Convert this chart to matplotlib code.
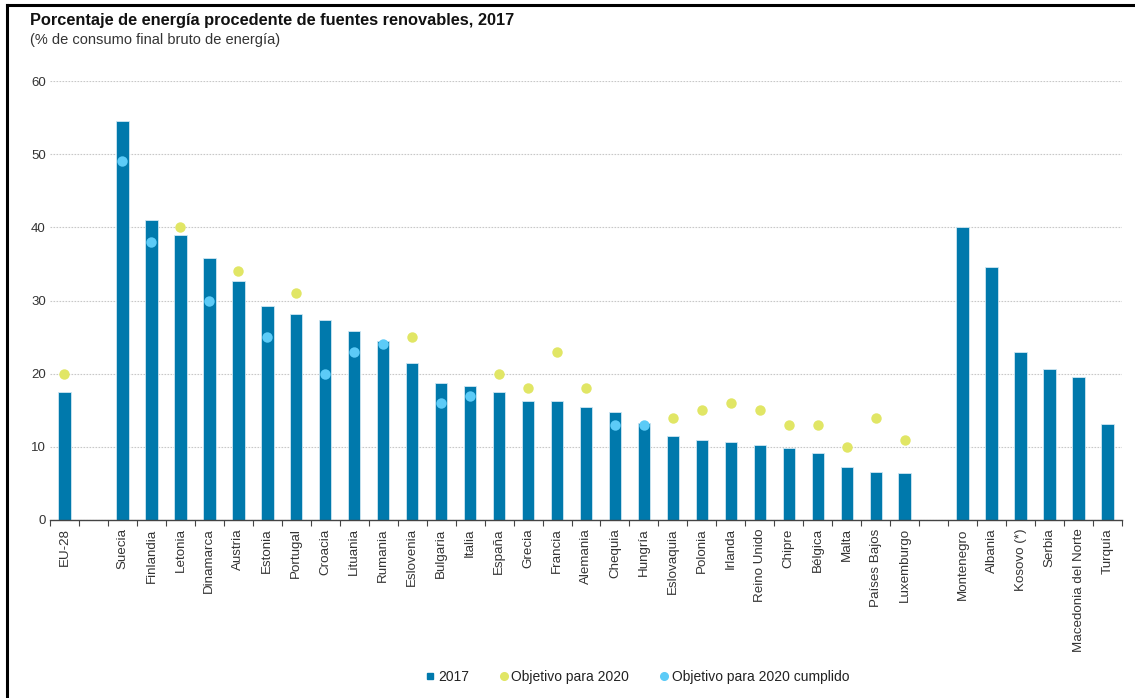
import matplotlib
matplotlib.use("Agg")
import matplotlib.pyplot as plt
from matplotlib.lines import Line2D
import numpy as np

plt.rcParams['font.family'] = ['Liberation Sans', 'DejaVu Sans']

# --- data -----------------------------------------------------------------
eu_label = ["EU-28"]
eu_value = [17.5]
eu_target = [20]

member_labels = ["Suecia", "Finlandia", "Letonia", "Dinamarca", "Austria", "Estonia",
                 "Portugal", "Croacia", "Lituania", "Rumania", "Eslovenia", "Bulgaria",
                 "Italia", "España", "Grecia", "Francia", "Alemania", "Chequia",
                 "Hungría", "Eslovaquia", "Polonia", "Irlanda", "Reino Unido", "Chipre",
                 "Bélgica", "Malta", "Países Bajos", "Luxemburgo"]
member_values = [54.5, 41.0, 39.0, 35.8, 32.6, 29.2, 28.1, 27.3, 25.8, 24.5, 21.5, 18.7,
                 18.3, 17.5, 16.3, 16.3, 15.5, 14.8, 13.3, 11.5, 10.9, 10.7, 10.2, 9.9,
                 9.1, 7.2, 6.6, 6.4]
member_targets = [49, 38, 40, 30, 34, 25, 31, 20, 23, 24, 25, 16,
                  17, 20, 18, 23, 18, 13, 13, 14, 15, 16, 15, 13,
                  13, 10, 14, 11]

other_labels = ["Montenegro", "Albania", "Kosovo (*)", "Serbia", "Macedonia del Norte", "Turquía"]
other_values = [40.0, 34.6, 23.0, 20.7, 19.5, 13.1]

yticks = [0, 10, 20, 30, 40, 50, 60]

# --- colours --------------------------------------------------------------
BAR = "#0079ac"
TARGET = "#e1e665"
TARGET_MET = "#5ccbf7"
GRID = "#c8c8c8"
TXT = "#333333"

# --- positions (one empty slot between groups) ----------------------------
groups = [(eu_label, eu_value, eu_target),
          (member_labels, member_values, member_targets),
          (other_labels, other_values, [None] * len(other_labels))]
positions, labels, values, targets = [], [], [], []
pos = 0
for gi, (lab, val, tgt) in enumerate(groups):
    if gi > 0:
        pos += 1
    for l, v, t in zip(lab, val, tgt):
        positions.append(pos)
        labels.append(l)
        values.append(v)
        targets.append(t)
        pos += 1
n_slots = pos

fig = plt.figure(figsize=(11.35, 6.98), dpi=100)
ax = fig.add_axes([50 / 1135, 1 - 520 / 698, 1072 / 1135, (520 - 81) / 698])

ax.bar(positions, values, width=0.43, color=BAR, edgecolor="#cfe7f2",
       linewidth=0.6, zorder=2)

tx_open = [p for p, v, t in zip(positions, values, targets) if t is not None and v < t]
ty_open = [t for v, t in zip(values, targets) if t is not None and v < t]
tx_met = [p for p, v, t in zip(positions, values, targets) if t is not None and v >= t]
ty_met = [t for v, t in zip(values, targets) if t is not None and v >= t]
ax.plot(tx_open, ty_open, "o", color=TARGET, markersize=7.5, markeredgewidth=0, zorder=3)
ax.plot(tx_met, ty_met, "o", color=TARGET_MET, markersize=7.5, markeredgewidth=0, zorder=3)

ax.set_xlim(-0.5, n_slots - 0.5)
ax.set_ylim(0, 60)
ax.set_yticks(yticks)
ax.set_yticklabels([str(v) for v in yticks], fontsize=9.5, color=TXT)
ax.tick_params(axis="y", length=0, pad=3)

ax.set_xticks(positions)
ax.set_xticklabels(labels, rotation=90, fontsize=9.6, color=TXT)
ax.set_xticks(np.arange(-0.5, n_slots, 1.0), minor=True)
ax.tick_params(axis="x", which="major", length=0, pad=6)
ax.tick_params(axis="x", which="minor", length=4, width=0.8, color="#444444", direction="out")

ax.yaxis.grid(True, linestyle=(0, (1.5, 1.2)), color=GRID, linewidth=0.8, zorder=0)
ax.set_axisbelow(True)
for side in ("top", "right", "left"):
    ax.spines[side].set_visible(False)
ax.spines["bottom"].set_color("#444444")
ax.spines["bottom"].set_linewidth(1.0)

fig.text(30 / 1135, 1 - 21 / 698, "Porcentaje de energía procedente de fuentes renovables, 2017",
         fontsize=11.8, fontweight="bold", color="#111111", va="center")
fig.text(30 / 1135, 1 - 40 / 698, "(% de consumo final bruto de energía)",
         fontsize=10.5, color=TXT, va="center")

handles = [
    Line2D([], [], marker="s", linestyle="none", color=BAR, markersize=5),
    Line2D([], [], marker="o", linestyle="none", color=TARGET, markersize=5.5),
    Line2D([], [], marker="o", linestyle="none", color=TARGET_MET, markersize=5.5),
]
fig.legend(handles, ["2017", "Objetivo para 2020", "Objetivo para 2020 cumplido"],
           loc="center", bbox_to_anchor=(637 / 1135, 1 - 677 / 698), ncol=3,
           frameon=False, fontsize=10, handletextpad=0.15, columnspacing=2.1,
           handlelength=0.8, labelcolor="#222222")

# frame lines along the left and top edges
fig.add_artist(Line2D([7 / 1135, 7 / 1135], [0, 1 - 5 / 698], transform=fig.transFigure,
                      color="black", linewidth=2.2))
fig.add_artist(Line2D([7 / 1135, 1], [1 - 5 / 698, 1 - 5 / 698], transform=fig.transFigure,
                      color="black", linewidth=2.2))

fig.savefig("out.png", dpi=100, facecolor="white")
